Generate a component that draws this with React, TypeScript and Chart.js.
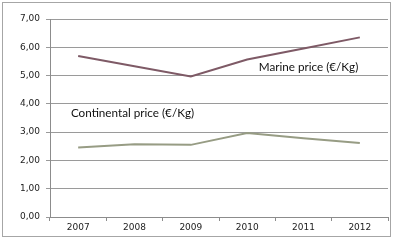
import React, { useEffect, useRef } from "react";
import { Chart, registerables } from "chart.js";

Chart.register(...registerables);

const years = ["2007", "2008", "2009", "2010", "2011", "2012"];
const marinePrice = [5.69, 5.33, 4.97, 5.57, 5.96, 6.35];
const continentalPrice = [2.46, 2.57, 2.55, 2.97, 2.78, 2.62];
const marineLabel = "Marine price (€/Kg)";
const continentalLabel = "Continental price (€/Kg)";

const labelPlugin = {
  id: "seriesLabels",
  afterDatasetsDraw(chart: any) {
    const { ctx, scales } = chart;
    const x = scales.x;
    const y = scales.y;
    ctx.save();
    ctx.font = "11.7px Lato";
    ctx.fillStyle = "#111";
    ctx.textAlign = "center";
    ctx.textBaseline = "middle";
    ctx.fillText(marineLabel, x.getPixelForValue(4) + 5, y.getPixelForValue(5.3));
    ctx.fillText(
      continentalLabel,
      (x.getPixelForValue(0) + x.getPixelForValue(2)) / 2 - 2,
      y.getPixelForValue(3.68)
    );
    ctx.restore();
  },
};

export default function App() {
  const ref = useRef<HTMLCanvasElement>(null);
  useEffect(() => {
    document.body.style.margin = "0";
    const chart = new Chart(ref.current!, {
      type: "line",
      data: {
        labels: years,
        datasets: [
          {
            label: marineLabel,
            data: marinePrice,
            borderColor: "#7e5a66",
            borderWidth: 2,
            pointRadius: 0,
            tension: 0,
          },
          {
            label: continentalLabel,
            data: continentalPrice,
            borderColor: "#979c84",
            borderWidth: 2,
            pointRadius: 0,
            tension: 0,
          },
        ],
      },
      options: {
        animation: false,
        responsive: false,
        layout: { padding: { top: 19, right: 5, left: 0, bottom: 0 } },
        plugins: { legend: { display: false }, tooltip: { enabled: false } },
        scales: {
          x: {
            offset: true,
            afterFit: (s: any) => {
              s.height = 23;
            },
            grid: {
              drawOnChartArea: false,
              drawTicks: true,
              tickLength: 4,
              color: "#8c8c8c",
              offset: true,
            },
            border: { color: "#8c8c8c" },
            ticks: {
              font: { family: "DejaVu Sans", size: 9 },
              color: "#222",
              padding: 1,
              maxRotation: 0,
            },
          },
          y: {
            min: 0,
            max: 7,
            afterFit: (s: any) => {
              s.width = 50;
            },
            grid: { color: "#9a9a9a", tickLength: 4 },
            border: { color: "#8c8c8c" },
            ticks: {
              stepSize: 1,
              font: { family: "DejaVu Sans", size: 9 },
              color: "#222",
              padding: 6,
              callback: (v: any) => Number(v).toFixed(2).replace(".", ","),
            },
          },
        },
      },
      plugins: [labelPlugin],
    });
    return () => chart.destroy();
  }, []);
  return (
    <div style={{ position: "relative", width: 393, height: 240, background: "#fff" }}>
      <canvas ref={ref} width={393} height={240} style={{ position: "absolute", left: 0, top: 0 }} />
      <div
        style={{
          position: "absolute",
          left: 2,
          top: 2,
          width: 387,
          height: 233,
          border: "1px solid #a6a6a6",
          pointerEvents: "none",
        }}
      />
    </div>
  );
}
